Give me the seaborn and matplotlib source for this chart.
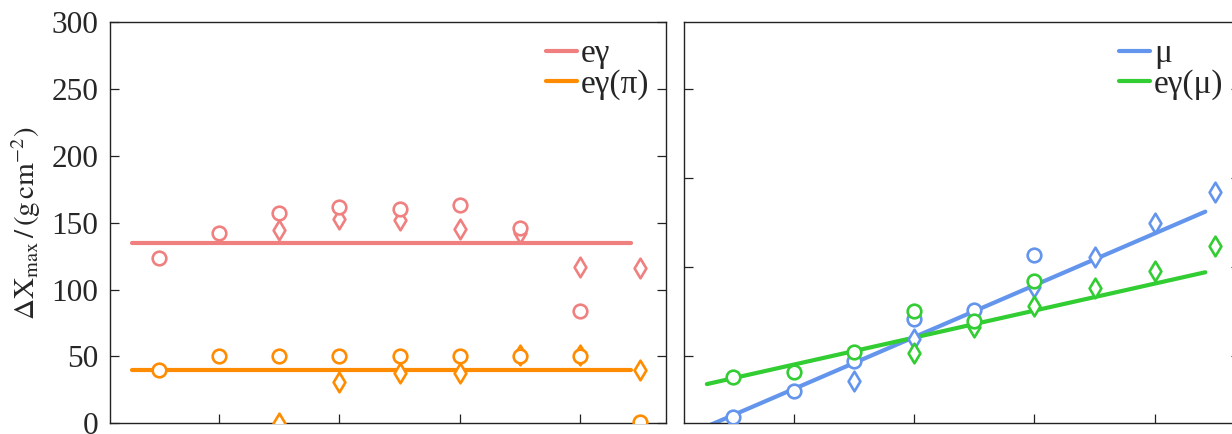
import numpy as np
import pandas as pd
import matplotlib
matplotlib.use("Agg")
import matplotlib.pyplot as plt
import seaborn as sns

# ---------------- data ----------------
log_energy = [17.5, 18.0, 18.5, 19.0, 19.5, 20.0, 20.5, 21.0, 21.5]
nan = np.nan

# left panel (Delta X_max in g/cm^2)
eg_circle = [124, 142, 157, 162, 160.5, 163, 146, 84, nan]
eg_diamond = [nan, nan, 144.5, 153, 152, 145.6, 142, 117, 116]
egpi_circle = [40, 50, 50, 50, 50, 50, 50, 50, 1]
egpi_diamond = [nan, nan, 0.5, 30.6, 37.8, 37.4, 51, 51, 39.6]

fit_x = [17.28, 21.42]
eg_fit = [135, 135]
egpi_fit = [40, 40]

# right panel
mu_circle = [-13.5, -7.8, -1.1, 8.4, 10.5, 22.8, nan, nan, nan]
mu_diamond = [nan, nan, -5.4, 3.9, nan, 15.6, 22.4, 30.0, 37.0]
egmu_circle = [-4.6, -3.5, 1.1, 10.1, 8.0, 17.0, nan, nan, nan]
egmu_diamond = [nan, nan, nan, 0.8, 6.6, 11.4, 15.3, 19.1, 24.7]

mu_fit = [-15.7, 32.5]
egmu_fit = [-6.2, 18.9]

left_ylim = (0, 300)
left_yticks = [0, 50, 100, 150, 200, 250, 300]
right_ylim = (-15, 75)
right_yticks = [0, 20, 40, 60]
xticks = [18, 19, 20, 21]
xlim = (17.09, 21.71)

c_eg = "#F08080"
c_egpi = "#FF8C00"
c_mu = "#6495ED"
c_egmu = "#32CD32"

# ---------------- style ----------------
sns.set_theme(style="ticks")
plt.rcParams["font.family"] = ["Liberation Serif", "DejaVu Serif"]
plt.rcParams["mathtext.fontset"] = "stix"

fig = plt.figure(figsize=(12.32, 4.34), dpi=100)
W, H = 1232.0, 434.0
axL = fig.add_axes([109.5 / W, (H - 423.3) / H, 556.2 / W, 401.0 / H])
axR = fig.add_axes([684.0 / W, (H - 423.3) / H, 556.2 / W, 401.0 / H])

LW = 3.0
MEW = 1.9
S_CIRC = 96
S_DIAM = 100


def draw(ax, fits, series):
    for fy, col, lab in fits:
        sns.lineplot(x=fit_x, y=fy, color=col, linewidth=LW, label=lab,
                     ax=ax, zorder=2)
    for vals, col, mk, s, z in series:
        df = pd.DataFrame({"x": log_energy, "y": vals}).dropna()
        sns.scatterplot(data=df, x="x", y="y", marker=mk, s=s,
                        facecolor="white", edgecolor=col, linewidth=MEW,
                        ax=ax, zorder=z, legend=False)


draw(axL,
     [(eg_fit, c_eg, "eγ"), (egpi_fit, c_egpi, "eγ(π)")],
     [(eg_diamond, c_eg, "d", S_DIAM, 3),
      (egpi_diamond, c_egpi, "d", S_DIAM, 3),
      (eg_circle, c_eg, "o", S_CIRC, 4),
      (egpi_circle, c_egpi, "o", S_CIRC, 4)])

draw(axR,
     [(mu_fit, c_mu, "μ"), (egmu_fit, c_egmu, "eγ(μ)")],
     [(mu_diamond, c_mu, "d", S_DIAM, 3),
      (egmu_diamond, c_egmu, "d", S_DIAM, 3.1),
      (mu_circle, c_mu, "o", S_CIRC, 4),
      (egmu_circle, c_egmu, "o", S_CIRC, 4.1)])

for ax in (axL, axR):
    ax.set_xlim(*xlim)
    ax.set_xticks(xticks)
    ax.set_xlabel("")
    ax.set_ylabel("")
    for sp in ax.spines.values():
        sp.set_visible(True)
        sp.set_color("#222222")
        sp.set_linewidth(1.0)
    ax.tick_params(axis="both", direction="in", length=6.5, width=0.9,
                   color="#222222", labelsize=22.5, pad=8)
    ax.tick_params(axis="y", left=True, right=True)
    # x tick labels lie below the visible region in the reference crop
    ax.tick_params(axis="x", bottom=True, top=False, labelbottom=False)
    leg = ax.legend(loc="upper right", frameon=False, fontsize=24,
                    handlelength=0.92, handletextpad=0.12, labelspacing=0.0,
                    borderaxespad=0.3, borderpad=0.2)
    for h in leg.get_lines():
        h.set_linewidth(LW)

axL.set_ylim(*left_ylim)
axL.set_yticks(left_yticks)
axL.tick_params(axis="y", labelleft=True, labelright=False)
axL.set_ylabel(r"$\Delta\mathrm{X}_{\mathrm{max}}\,/\,(\mathrm{g\,cm}^{-2})$",
               fontsize=21)
axL.yaxis.set_label_coords(-0.12, 0.5)

axR.set_ylim(*right_ylim)
axR.set_yticks(right_yticks)
# right-hand labels fall outside the visible crop in the reference
axR.tick_params(axis="y", labelleft=False, labelright=False)

fig.savefig("out.png", dpi=100)
